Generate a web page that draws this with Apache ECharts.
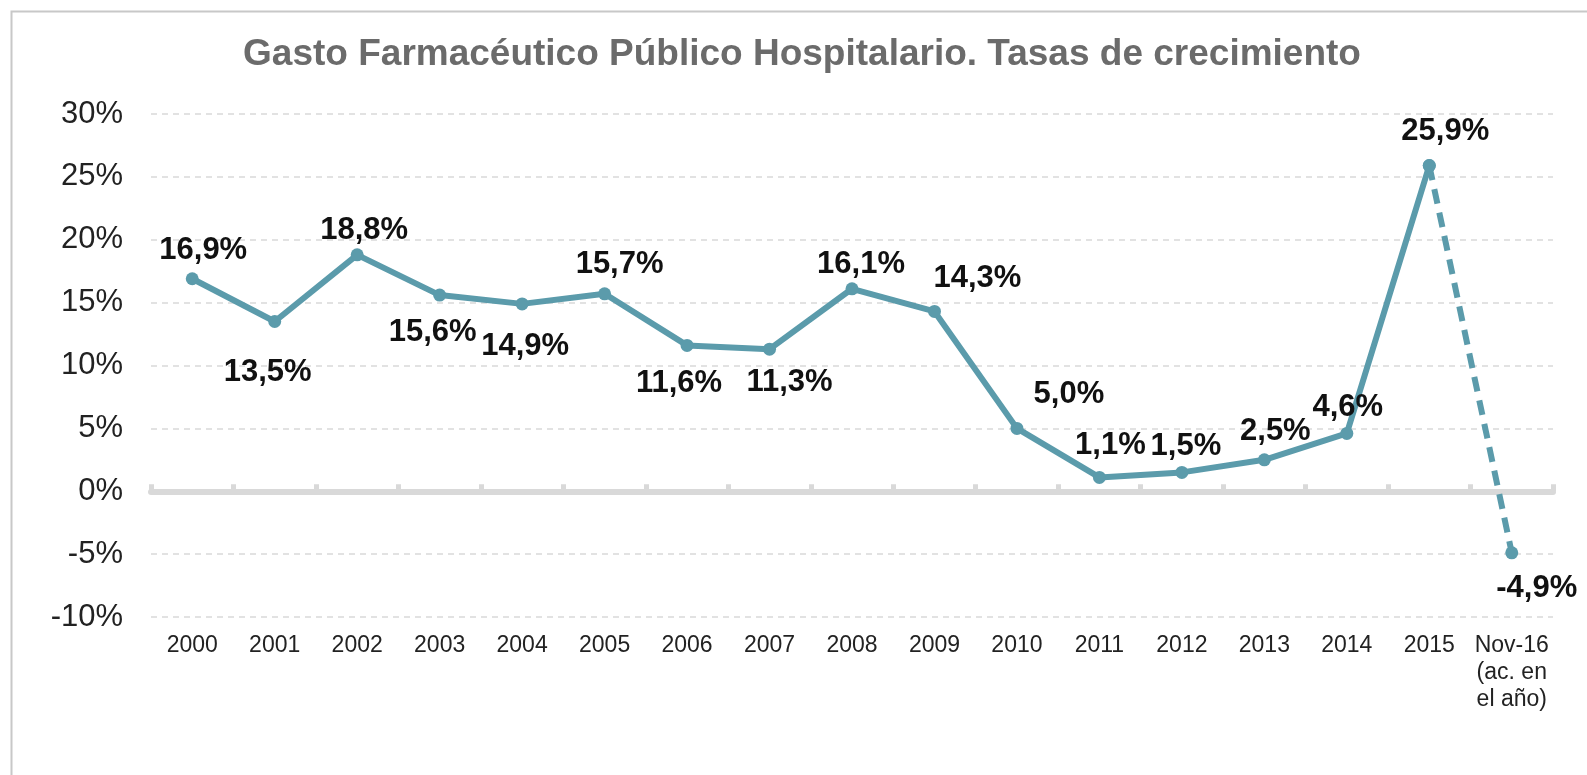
<!DOCTYPE html>
<html>
<head>
<meta charset="utf-8">
<script src="https://cdn.jsdelivr.net/npm/echarts@6/dist/echarts.min.js"></script>
<style>
  html, body { margin: 0; padding: 0; background: #fff; }
  #main { width: 1587px; height: 775px; }
</style>
</head>
<body>
<div id="main"></div>
<script>
var chartDom = document.getElementById('main');
var myChart = echarts.init(chartDom);
var option;

// datos
var years = ['2000', '2001', '2002', '2003', '2004', '2005', '2006', '2007', '2008',
  '2009', '2010', '2011', '2012', '2013', '2014', '2015', 'Nov-16\n(ac. en\nel año)'];
var tasaAnual = [16.9, 13.5, 18.8, 15.6, 14.9, 15.7, 11.6, 11.3, 16.1, 14.3, 5.0, 1.1, 1.5, 2.5, 4.6, 25.9];
var tasaAcumulada = [25.9, -4.9]; // 2015 -> Nov-16
var yTicks = [-10, -5, 0, 5, 10, 15, 20, 25, 30];

// donde va cada etiqueta respecto al punto
var labelOffsets = [[11, -28], [-7, 51], [7, -24], [-7, 37], [3, 43], [15, -29], [-8, 38], [20, 33],
  [9, -24], [43, -33], [52, -34], [11, -32], [4, -26], [11, -28], [1, -26], [16, -34], [25, 36]];

var lineColor = '#5b9bab';
var gridColor = '#d9d9d9';

function fmt(v) {
  return v.toFixed(1).replace('.', ',') + '%';
}

function labelFor(i) {
  return {
    show: true,
    position: 'inside',
    offset: labelOffsets[i],
    formatter: function (p) { return fmt(p.value); },
    fontFamily: 'Liberation Sans',
    fontWeight: 'bold',
    fontSize: 31,
    color: '#111'
  };
}

var solidData = tasaAnual.map(function (v, i) {
  return { value: v, label: labelFor(i) };
});
solidData.push('-');

var dashedData = years.map(function () { return '-'; });
dashedData[years.length - 2] = { value: tasaAcumulada[0], label: { show: false } };
dashedData[years.length - 1] = { value: tasaAcumulada[1], label: labelFor(years.length - 1) };

option = {
  animation: false,
  backgroundColor: '#fff',
  title: {
    text: 'Gasto Farmacéutico Público Hospitalario. Tasas de crecimiento',
    left: 797,
    textAlign: 'center',
    top: 31,
    textStyle: {
      fontFamily: 'Liberation Sans',
      fontWeight: 'bold',
      fontSize: 37,
      color: '#6b6b6b'
    }
  },
  graphic: [{
    type: 'rect',
    left: 9,
    top: 9,
    shape: { width: 1600, height: 800 },
    style: { fill: 'none', stroke: '#c8c8c8', lineWidth: 2 },
    z: -1
  }],
  grid: {
    top: 114,
    left: 151,
    right: 34,
    bottom: 158
  },
  xAxis: [{
    type: 'category',
    data: years,
    position: 'bottom',
    axisLine: { onZero: false, show: false },
    axisTick: { show: false },
    axisLabel: {
      margin: 15,
      fontFamily: 'Liberation Sans',
      fontSize: 23,
      lineHeight: 27,
      color: '#222',
      interval: 0
    }
  }, {
    type: 'category',
    data: years,
    axisLine: { onZero: true, lineStyle: { color: gridColor, width: 6 } },
    axisTick: { show: true, length: 7, lineStyle: { color: gridColor, width: 5 } },
    axisLabel: { show: false }
  }],
  yAxis: {
    type: 'value',
    min: yTicks[0],
    max: yTicks[yTicks.length - 1],
    interval: 5,
    axisLine: { show: false },
    axisTick: { show: false },
    axisLabel: {
      margin: 28,
      formatter: '{value}%',
      fontFamily: 'Liberation Sans',
      fontSize: 31,
      color: '#222'
    },
    splitLine: {
      lineStyle: { color: gridColor, type: [6, 5], width: 1.5 }
    }
  },
  series: [
    {
      type: 'line',
      data: solidData,
      symbol: 'circle',
      symbolSize: 13,
      lineStyle: { color: lineColor, width: 6 },
      itemStyle: { color: lineColor },
      z: 3
    },
    {
      type: 'line',
      data: dashedData,
      symbol: 'circle',
      symbolSize: 13,
      lineStyle: { color: lineColor, width: 6, type: [15, 9] },
      itemStyle: { color: lineColor },
      z: 3
    }
  ]
};

myChart.setOption(option);
</script>
</body>
</html>
